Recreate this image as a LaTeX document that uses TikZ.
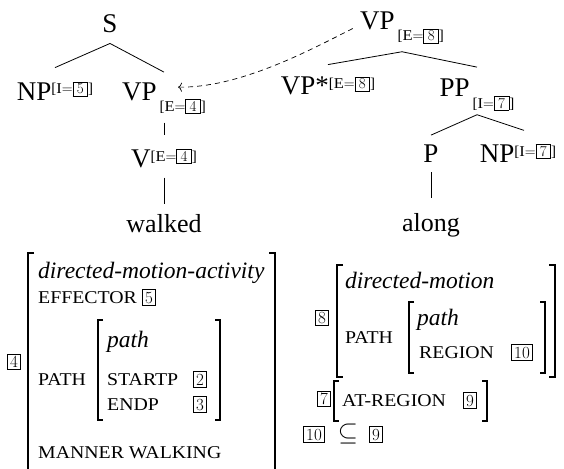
\documentclass[tikz,border=0pt]{standalone}
\usepackage{graphicx}
\usepackage{fontspec}
\setmainfont{Liberation Serif}
\newfontfamily\capsfont[FakeStretch=1.1]{Liberation Serif}
\usetikzlibrary{positioning,arrows.meta}

\newcommand{\tagbox}[2][0.5pt]{{\setlength{\fboxsep}{1.6pt}\setlength{\fboxrule}{0.7pt}\fbox{\fontfamily{lmr}\selectfont\hspace{#1}#2\hspace{#1}}}}
\newcommand{\featsub}[2]{{\fontsize{15}{17}\selectfont[{\capsfont #1}{\fontfamily{lmr}\selectfont =}\tagbox[2pt]{#2}]}}

\begin{document}
\begin{tikzpicture}[x=1pt, y=-1pt,
  cat/.style={inner sep=0pt, anchor=base, font=\fontsize{27}{30}\selectfont},
  word/.style={inner sep=0pt, anchor=base, font=\fontsize{26}{30}\selectfont},
  val/.style={inner sep=0pt, anchor=base west, font=\fontsize{23.5}{26}\selectfont\itshape},
  attr/.style={inner sep=0pt, anchor=base west, font=\fontsize{18}{20}\capsfont},
  tag/.style={inner sep=0pt, font=\fontsize{17}{19}\selectfont},
  branch/.style={line width=0.8pt},
  brack/.style={line width=1.1pt}]
  \useasboundingbox (0,0) rectangle (564,468);
  \clip (0,0) rectangle (564,468);

  % left tree
  \node[cat] (S) at (110,33) {S};
  \node[cat] (NPi) at (55,100) {NP\raisebox{6pt}{\featsub{I}{5}}};
  \node[cat] (VPe) at (164,100) {VP\kern3pt\raisebox{-11pt}{\featsub{E}{4}}};
  \node[cat] (V) at (164,167) {V\raisebox{6pt}{\featsub{E}{4}}};
  \node[word] (walked) at (164,232) {walked};
  \draw[branch] ([yshift=-10pt]S.south) -- ([yshift=14pt]NPi.north);
  \draw[branch] ([yshift=-10pt]S.south) -- ([yshift=10pt]VPe.north);
  \draw[branch] ([yshift=-9pt]VPe.south) -- ([yshift=13pt]V.north);
  \draw[branch] ([yshift=-10pt]V.south) -- ([yshift=10pt]walked.north);

  % auxiliary tree
  \node[cat] (VPtop) at (402,30) {VP\kern3pt\raisebox{-11pt}{\featsub{E}{8}}};
  \node[cat] (VPfoot) at (328,95) {VP*\raisebox{6pt}{\featsub{E}{8}}};
  \node[cat] (PP) at (477,97) {PP\kern3pt\raisebox{-11pt}{\featsub{I}{7}}};
  \node[cat] (P) at (431,162) {P};
  \node[cat] (NPo) at (518,162) {NP\raisebox{6pt}{\featsub{I}{7}}};
  \node[word] (along) at (431,231) {along};
  \draw[branch] ([yshift=-8pt]VPtop.south) -- ([yshift=12pt]VPfoot.north);
  \draw[branch] ([yshift=-8pt]VPtop.south) -- ([yshift=12pt]PP.north);
  \draw[branch] ([yshift=-4pt]PP.south) -- ([yshift=9pt]P.north);
  \draw[branch] ([yshift=-4pt]PP.south) -- ([xshift=6pt,yshift=13pt]NPo.north);
  \draw[branch] ([yshift=-10pt]P.south) -- ([yshift=15pt]along.north);

  % adjunction
  \draw[line width=0.7pt, dash pattern=on 5pt off 4pt, -{To[length=4pt,width=9pt]}, shorten <=8pt]
    ([yshift=3pt]VPtop.west) .. controls (310,50) and (240,88) .. ([xshift=14pt,yshift=-5pt]VPe.north);

  % AVM of walked
  \node[tag] (t4) at (14,362) {\tagbox{4}};
  \draw[brack] (34,253) -- (28,253) -- (28,480);
  \draw[brack] (269,253) -- (275,253) -- (275,480);
  \node[val] (dma) at (38,278) {directed-motion-activity};
  \node[attr] (eff) at (38,303) {EFFECTOR};
  \node[tag, anchor=base west] (t5) at ([xshift=5pt]eff.base east) {\tagbox{5}};
  \node[attr] (pathA) at (38,385) {PATH};
  \draw[brack] (103,320) -- (98,320) -- (98,420) -- (103,420);
  \draw[brack] (215,320) -- (220,320) -- (220,420) -- (215,420);
  \node[val] (pathA-type) at (107,347) {path};
  \node[attr] (startp) at (107,385) {STARTP};
  \node[tag, anchor=base] (t2) at (200,385) {\tagbox{2}};
  \node[attr] (endp) at (107,410) {ENDP};
  \node[tag, anchor=base] (t3) at (200,410) {\tagbox{3}};
  \node[attr] (manner) at (38,458) {MANNER WALKING};

  % AVMs of along
  \node[tag] (t8) at (322,318) {\tagbox{8}};
  \draw[brack] (343,265) -- (337,265) -- (337,377) -- (343,377);
  \draw[brack] (549,265) -- (555,265) -- (555,377) -- (549,377);
  \node[val] (dm) at (345,288) {directed-motion};
  \node[attr] (pathB) at (345,343) {PATH};
  \draw[brack] (414,302) -- (409,302) -- (409,373) -- (414,373);
  \draw[brack] (540,302) -- (545,302) -- (545,373) -- (540,373);
  \node[val] (pathB-type) at (417,325) {path};
  \node[attr] (region) at (419,358) {REGION};
  \node[tag, anchor=base] (t10) at (522,358) {\tagbox{10}};

  \node[tag] (t7) at (324,399) {\tagbox{7}};
  \draw[brack] (339,381) -- (334,381) -- (334,421) -- (339,421);
  \draw[brack] (482,381) -- (487,381) -- (487,421) -- (482,421);
  \node[attr] (atregion) at (342,406) {AT-REGION};
  \node[tag, anchor=base] (t9) at (470,406) {\tagbox{9}};

  \node[tag, anchor=base] (t10b) at (314,440) {\tagbox{10}};
  \node[tag, anchor=base] (sub) at (348,440) {\scalebox{1.5}{$\subseteq$}};
  \node[tag, anchor=base] (t9b) at (376,440) {\tagbox{9}};
\end{tikzpicture}
\end{document}
